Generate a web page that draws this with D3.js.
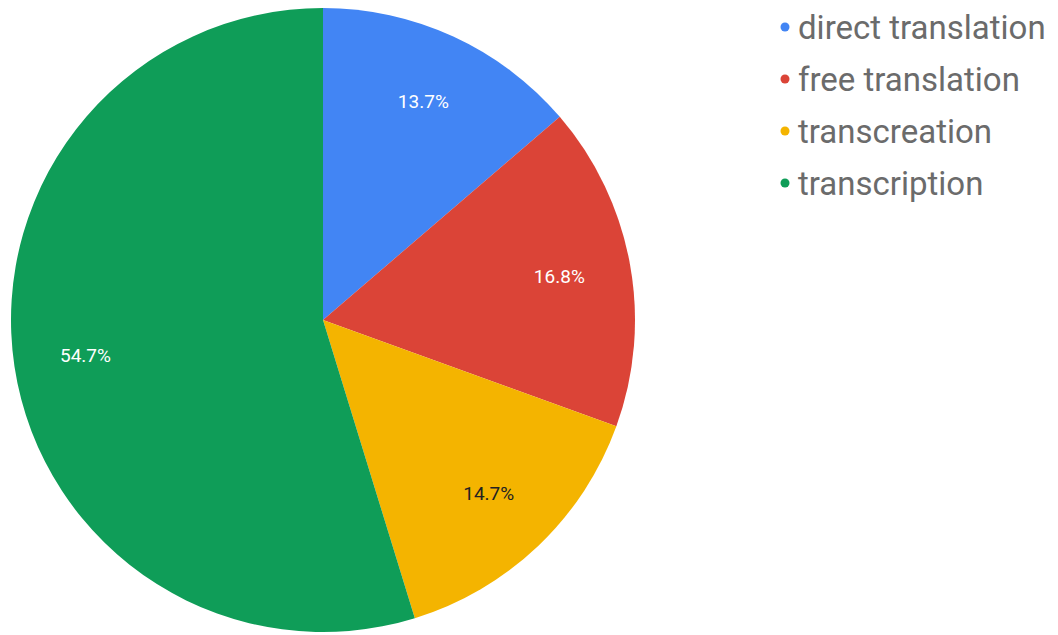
<!DOCTYPE html>
<html>
<head>
<meta charset="utf-8">
<script src="https://cdn.jsdelivr.net/npm/d3@7"></script>
<style>
  body { margin: 0; background: #fff; }
  svg { display: block; font-family: Roboto, Arial, sans-serif; }
</style>
</head>
<body>
<svg id="chart"></svg>
<script>
const SIZE = { width: 1058, height: 635 }
const PIE = { cx: 323, cy: 320, r: 312 }

const categories = ["direct translation", "free translation", "transcreation", "transcription"]
const values = [13.7, 16.8, 14.7, 54.7]
const colors = ["#4285f4", "#db4437", "#f4b400", "#0f9d58"]
const labelColors = ["#ffffff", "#ffffff", "#222222", "#ffffff"]

const data = categories.map((c, i) => ({ name: c, value: values[i], color: colors[i], labelColor: labelColors[i] }))

const svg = d3.select("svg#chart").attr("width", SIZE.width).attr("height", SIZE.height)

const pie = d3.pie().value(d => d.value).sort(null)
const arc = d3.arc().innerRadius(0).outerRadius(PIE.r)
const labelArc = d3.arc().innerRadius(PIE.r * 0.77).outerRadius(PIE.r * 0.77)

const g = svg.append("g").attr("transform", `translate(${PIE.cx},${PIE.cy})`)
const slices = pie(data)

g.selectAll("path.slice").data(slices).enter().append("path")
  .attr("class", "slice")
  .attr("d", arc)
  .attr("fill", d => d.data.color)

g.selectAll("text.pct").data(slices).enter().append("text")
  .attr("class", "pct")
  .attr("transform", d => `translate(${labelArc.centroid(d)})`)
  .attr("text-anchor", "middle")
  .attr("dominant-baseline", "central")
  .attr("font-size", 19)
  .attr("fill", d => d.data.labelColor)
  .text(d => d.data.value.toFixed(1) + "%")

// legend
const legend = svg.append("g").attr("transform", "translate(785,27)")
const items = legend.selectAll("g.item").data(data).enter().append("g")
  .attr("class", "item")
  .attr("transform", (d, i) => `translate(0,${i * 52})`)
items.append("circle").attr("r", 4.5).attr("fill", d => d.color)
items.append("text")
  .attr("x", 13)
  .attr("dominant-baseline", "central")
  .attr("font-size", 33)
  .attr("fill", "#6b6b6b")
  .text(d => d.name)
</script>
</body>
</html>
